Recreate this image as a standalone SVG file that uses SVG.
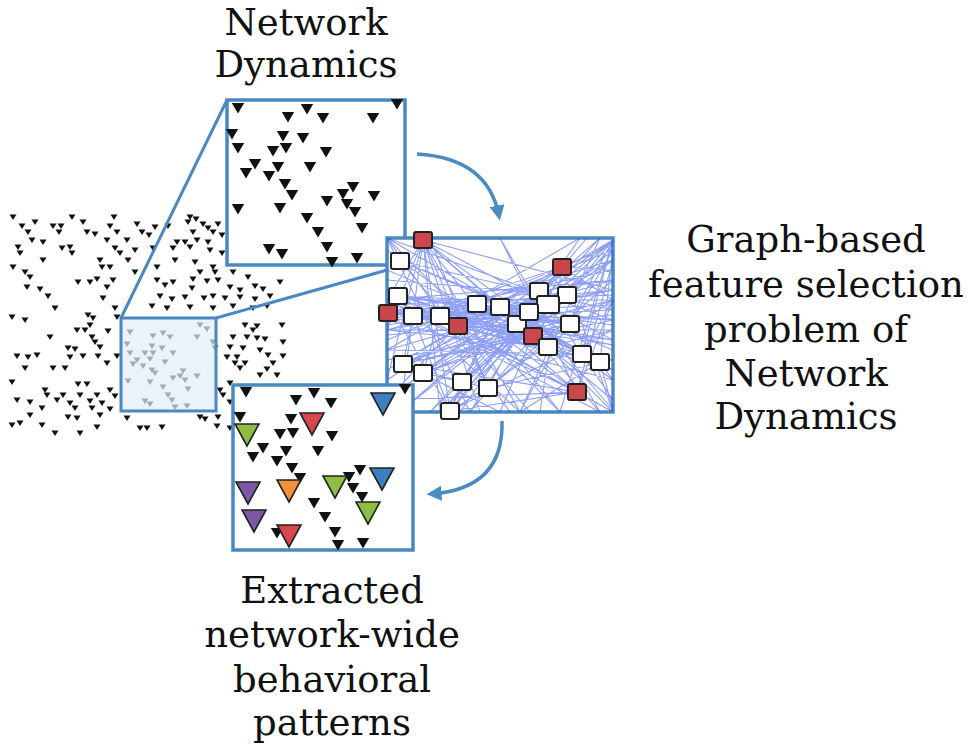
<svg xmlns="http://www.w3.org/2000/svg" xmlns:xlink="http://www.w3.org/1999/xlink" width="969" height="747" viewBox="0 0 969 747">
<style>
.panel{fill:#fff;stroke:#4a88c2;stroke-width:3.5}
.zl{stroke:#4a88c2;stroke-width:3;fill:none}
.lbl{font-family:"DejaVu Serif","Liberation Serif",serif;font-size:37px;fill:#111;text-anchor:middle}
.sc use{fill:#111}
.tri use{fill:#111}
.big use{stroke:#222;stroke-width:1.6}
.edges{stroke:#2f50f0;stroke-width:1.1;opacity:0.55;fill:none}
.nw{fill:#fff;stroke:#222;stroke-width:2}
.nr{fill:#c9474b;stroke:#222;stroke-width:2}
.arr{stroke:#4a8bc4;stroke-width:3.5;fill:none}
</style>
<defs>
<polygon id="s" points="-3.5,-2.6 3.5,-2.6 0,3"/>
<polygon id="t" points="-6.2,-5 6.2,-5 0,5.5"/>
<polygon id="b" points="-12,-10 12,-10 0,12"/>
<marker id="ah" viewBox="0 0 10 10" refX="7" refY="5" markerWidth="15" markerHeight="15" markerUnits="userSpaceOnUse" orient="auto">
<path d="M0,0 L10,5 L0,10 z" fill="#4a8bc4"/>
</marker>
<clipPath id="gc"><rect x="387" y="238" width="226" height="174"/></clipPath>
</defs>
<rect width="969" height="747" fill="#fff"/>

<g id="scatter" class="sc">
<use href="#s" x="13" y="217"/><use href="#s" x="72" y="217"/><use href="#s" x="114" y="217"/><use href="#s" x="190" y="217"/><use href="#s" x="196" y="219"/>
<use href="#s" x="22" y="226"/><use href="#s" x="35" y="222"/><use href="#s" x="53" y="226"/><use href="#s" x="61" y="226"/><use href="#s" x="83" y="222"/><use href="#s" x="110" y="226"/><use href="#s" x="137" y="224"/><use href="#s" x="155" y="227"/><use href="#s" x="168" y="226"/><use href="#s" x="188" y="222"/><use href="#s" x="203" y="224"/><use href="#s" x="208" y="228"/><use href="#s" x="218" y="224"/>
<use href="#s" x="28" y="232"/><use href="#s" x="59" y="232"/><use href="#s" x="87" y="232"/><use href="#s" x="95" y="234"/><use href="#s" x="117" y="232"/><use href="#s" x="142" y="232"/><use href="#s" x="149" y="235"/><use href="#s" x="193" y="232"/><use href="#s" x="213" y="232"/><use href="#s" x="222" y="235"/>
<use href="#s" x="32" y="240"/><use href="#s" x="43" y="242"/><use href="#s" x="107" y="240"/><use href="#s" x="127" y="240"/><use href="#s" x="177" y="242"/><use href="#s" x="185" y="242"/><use href="#s" x="197" y="240"/><use href="#s" x="208" y="242"/>
<use href="#s" x="18" y="247"/><use href="#s" x="62" y="248"/><use href="#s" x="70" y="247"/><use href="#s" x="115" y="248"/><use href="#s" x="135" y="250"/><use href="#s" x="153" y="248"/><use href="#s" x="173" y="248"/><use href="#s" x="190" y="247"/><use href="#s" x="210" y="250"/>
<use href="#s" x="20" y="253"/><use href="#s" x="72" y="253"/><use href="#s" x="120" y="253"/><use href="#s" x="222" y="253"/>
<use href="#s" x="43" y="260"/><use href="#s" x="100" y="260"/><use href="#s" x="128" y="260"/><use href="#s" x="175" y="260"/><use href="#s" x="195" y="262"/>
<use href="#s" x="13" y="267"/><use href="#s" x="102" y="267"/><use href="#s" x="110" y="267"/><use href="#s" x="157" y="267"/><use href="#s" x="213" y="267"/>
<use href="#s" x="25" y="272"/><use href="#s" x="135" y="272"/><use href="#s" x="200" y="272"/><use href="#s" x="215" y="272"/><use href="#s" x="233" y="272"/>
<use href="#s" x="30" y="277"/><use href="#s" x="78" y="282"/><use href="#s" x="90" y="282"/><use href="#s" x="97" y="279"/><use href="#s" x="113" y="280"/><use href="#s" x="157" y="280"/><use href="#s" x="173" y="282"/><use href="#s" x="193" y="279"/><use href="#s" x="207" y="281"/><use href="#s" x="218" y="280"/><use href="#s" x="248" y="277"/><use href="#s" x="280" y="282"/>
<use href="#s" x="27" y="287"/><use href="#s" x="40" y="289"/><use href="#s" x="107" y="287"/><use href="#s" x="165" y="285"/><use href="#s" x="192" y="288"/><use href="#s" x="230" y="287"/><use href="#s" x="240" y="290"/><use href="#s" x="255" y="286"/><use href="#s" x="263" y="289"/>
<use href="#s" x="48" y="296"/><use href="#s" x="103" y="298"/><use href="#s" x="160" y="296"/><use href="#s" x="172" y="299"/><use href="#s" x="185" y="297"/><use href="#s" x="204" y="298"/><use href="#s" x="213" y="296"/><use href="#s" x="225" y="298"/><use href="#s" x="240" y="297"/><use href="#s" x="255" y="299"/><use href="#s" x="270" y="296"/>
<use href="#s" x="55" y="308"/><use href="#s" x="115" y="308"/><use href="#s" x="152" y="306"/><use href="#s" x="167" y="308"/><use href="#s" x="190" y="307"/><use href="#s" x="213" y="308"/><use href="#s" x="233" y="306"/><use href="#s" x="253" y="308"/><use href="#s" x="267" y="306"/>
<use href="#s" x="12" y="317"/><use href="#s" x="25" y="320"/><use href="#s" x="88" y="315"/><use href="#s" x="93" y="318"/><use href="#s" x="117" y="317"/>
<use href="#s" x="90" y="325"/><use href="#s" x="245" y="325"/><use href="#s" x="257" y="326"/><use href="#s" x="282" y="325"/>
<use href="#s" x="77" y="330"/><use href="#s" x="85" y="330"/><use href="#s" x="108" y="331"/><use href="#s" x="253" y="330"/>
<use href="#s" x="50" y="337"/><use href="#s" x="92" y="337"/><use href="#s" x="233" y="337"/><use href="#s" x="247" y="337"/><use href="#s" x="257" y="338"/><use href="#s" x="265" y="339"/>
<use href="#s" x="95" y="342"/><use href="#s" x="283" y="342"/>
<use href="#s" x="68" y="348"/><use href="#s" x="75" y="349"/><use href="#s" x="100" y="347"/><use href="#s" x="230" y="347"/><use href="#s" x="243" y="348"/><use href="#s" x="260" y="350"/>
<use href="#s" x="17" y="356"/><use href="#s" x="28" y="357"/><use href="#s" x="37" y="355"/><use href="#s" x="70" y="357"/><use href="#s" x="83" y="356"/><use href="#s" x="98" y="356"/><use href="#s" x="117" y="356"/><use href="#s" x="227" y="357"/><use href="#s" x="237" y="357"/><use href="#s" x="268" y="355"/><use href="#s" x="283" y="356"/>
<use href="#s" x="107" y="363"/><use href="#s" x="235" y="363"/><use href="#s" x="245" y="363"/><use href="#s" x="273" y="363"/>
<use href="#s" x="25" y="368"/><use href="#s" x="53" y="368"/><use href="#s" x="65" y="368"/><use href="#s" x="240" y="368"/><use href="#s" x="267" y="369"/>
<use href="#s" x="260" y="375"/><use href="#s" x="277" y="375"/>
<use href="#s" x="12" y="382"/><use href="#s" x="78" y="384"/><use href="#s" x="87" y="384"/><use href="#s" x="230" y="383"/>
<use href="#s" x="45" y="390"/><use href="#s" x="110" y="390"/><use href="#s" x="220" y="390"/>
<use href="#s" x="47" y="395"/><use href="#s" x="63" y="395"/><use href="#s" x="80" y="395"/><use href="#s" x="97" y="395"/><use href="#s" x="115" y="396"/><use href="#s" x="223" y="395"/>
<use href="#s" x="17" y="400"/><use href="#s" x="30" y="402"/><use href="#s" x="57" y="400"/><use href="#s" x="70" y="403"/><use href="#s" x="90" y="401"/><use href="#s" x="102" y="403"/><use href="#s" x="230" y="402"/>
<use href="#s" x="42" y="408"/><use href="#s" x="75" y="408"/><use href="#s" x="92" y="408"/><use href="#s" x="110" y="409"/>
<use href="#s" x="30" y="415"/><use href="#s" x="68" y="417"/><use href="#s" x="77" y="418"/><use href="#s" x="100" y="415"/><use href="#s" x="127" y="418"/><use href="#s" x="200" y="417"/><use href="#s" x="205" y="419"/><use href="#s" x="218" y="417"/>
<use href="#s" x="12" y="425"/><use href="#s" x="20" y="423"/><use href="#s" x="42" y="425"/><use href="#s" x="97" y="427"/><use href="#s" x="140" y="428"/><use href="#s" x="147" y="428"/><use href="#s" x="162" y="427"/><use href="#s" x="217" y="426"/><use href="#s" x="230" y="428"/>
<use href="#s" x="55" y="433"/><use href="#s" x="80" y="433"/>
<use href="#s" x="130" y="332"/><use href="#s" x="153" y="336"/><use href="#s" x="163" y="333"/><use href="#s" x="170" y="337"/><use href="#s" x="200" y="325"/><use href="#s" x="207" y="329"/><use href="#s" x="197" y="337"/><use href="#s" x="127" y="344"/><use href="#s" x="152" y="346"/><use href="#s" x="162" y="348"/><use href="#s" x="130" y="353"/><use href="#s" x="145" y="353"/><use href="#s" x="153" y="353"/><use href="#s" x="173" y="353"/><use href="#s" x="213" y="342"/><use href="#s" x="215" y="348"/><use href="#s" x="137" y="360"/><use href="#s" x="150" y="359"/><use href="#s" x="165" y="362"/><use href="#s" x="133" y="364"/><use href="#s" x="143" y="366"/><use href="#s" x="152" y="370"/><use href="#s" x="155" y="373"/><use href="#s" x="183" y="371"/><use href="#s" x="180" y="376"/><use href="#s" x="173" y="378"/><use href="#s" x="185" y="380"/><use href="#s" x="197" y="376"/><use href="#s" x="128" y="381"/><use href="#s" x="150" y="382"/><use href="#s" x="163" y="387"/><use href="#s" x="188" y="389"/><use href="#s" x="168" y="395"/><use href="#s" x="172" y="400"/><use href="#s" x="145" y="401"/><use href="#s" x="150" y="404"/><use href="#s" x="175" y="407"/><use href="#s" x="187" y="406"/>
</g>

<g id="zoom-region">
<rect x="121" y="318" width="95" height="93" fill="#e4ecf6" fill-opacity="0.7" stroke="#4a88c2" stroke-width="3"/>
<line class="zl" x1="121" y1="318" x2="227" y2="100"/>
<line class="zl" x1="216" y1="318" x2="405" y2="265"/>
</g>

<g id="network-dynamics-panel">
<rect class="panel" x="227" y="100" width="178" height="165"/>
<g class="tri">
<use href="#t" x="238" y="108"/><use href="#t" x="307" y="109"/><use href="#t" x="288" y="117"/><use href="#t" x="323" y="118"/><use href="#t" x="373" y="118"/><use href="#t" x="397" y="104"/>
<use href="#t" x="232" y="134"/><use href="#t" x="283" y="136"/><use href="#t" x="303" y="138"/><use href="#t" x="238" y="148"/><use href="#t" x="273" y="151"/><use href="#t" x="286" y="148"/><use href="#t" x="326" y="152"/>
<use href="#t" x="255" y="164"/><use href="#t" x="278" y="167"/><use href="#t" x="310" y="167"/><use href="#t" x="246" y="173"/><use href="#t" x="269" y="176"/><use href="#t" x="285" y="184"/><use href="#t" x="292" y="195"/>
<use href="#t" x="353" y="187"/><use href="#t" x="343" y="194"/><use href="#t" x="374" y="196"/><use href="#t" x="327" y="201"/><use href="#t" x="347" y="204"/><use href="#t" x="355" y="212"/>
<use href="#t" x="238" y="209"/><use href="#t" x="280" y="208"/><use href="#t" x="307" y="218"/><use href="#t" x="362" y="228"/><use href="#t" x="318" y="232"/>
<use href="#t" x="327" y="247"/><use href="#t" x="269" y="249"/><use href="#t" x="282" y="254"/><use href="#t" x="332" y="262"/><use href="#t" x="357" y="258"/>
</g>
</g>

<g id="graph-panel">
<rect class="panel" x="387" y="238" width="226" height="174"/>
<g clip-path="url(#gc)">
<path class="edges" d="M388,313 L500,307 M388,313 L529,312 M388,313 L570,324 M413,316 L539,291 M413,316 L548,304 M413,316 L517,324 M440,316 L567,295 M440,316 L529,312 M440,316 L548,347 M398,296 L548,304 M398,296 L570,324 M398,296 L500,307 M477,304 L570,324 M477,304 L582,354 M458,326 L548,304 M458,326 L567,295 M458,326 L600,362 M500,307 L582,354 M500,307 L600,362 M400,261 L529,312 M423,240 L548,347 M423,240 L533,336 M423,240 L488,388 M423,240 L450,411 M403,364 L548,304 M403,364 L517,324 M403,364 L570,324 M423,373 L539,291 M423,373 L529,312 M423,373 L533,336 M462,382 L500,307 M462,382 L567,295 M462,382 L562,267 M488,388 L539,291 M488,388 L570,324 M450,411 L500,307 M450,411 L529,312 M450,411 L548,304 M577,392 L440,316 M577,392 L477,304 M577,392 L398,296 M577,392 L403,364 M577,392 L450,411 M582,354 L440,316 M600,362 L413,316 M533,336 L388,313 M533,336 L403,364 M562,267 L413,316 M562,267 L458,326 M562,267 L423,373 M562,267 L450,411 M423,240 L500,307
M423,240 L613,290 M423,240 L613,340 M423,240 L560,412 M423,240 L520,412 M423,240 L387,380 M423,240 L480,412 M423,240 L387,330 M423,240 L400,412 M423,240 L440,412 M423,240 L387,300 M423,240 L613,380
M562,267 L387,340 M562,267 L387,400 M562,267 L430,412 M562,267 L500,412 M562,267 L613,412 M562,267 L613,245 M562,267 L613,300 M562,267 L587,238 M562,267 L613,270 M562,267 L470,412 M562,267 L387,370 M562,267 L540,412
M387,238 L613,320 M387,238 L560,412 M387,238 L470,412 M387,238 L510,412 M387,238 L613,370
M613,240 L470,412 M613,240 L430,412 M613,240 L387,370 M613,240 L520,412 M613,240 L560,412 M613,240 L400,412
M613,260 L387,330 M600,238 L440,412 M600,238 L400,412 M580,238 L387,350 M580,238 L460,412
M387,300 L613,300 M387,300 L613,280 M387,300 L613,340 M387,320 L613,310 M387,320 L613,270 M387,320 L613,380 M387,330 L613,330 M387,310 L613,320 M387,305 L613,295 M387,315 L613,305 M387,325 L613,290 M387,295 L613,325 M387,335 L613,315 M387,310 L613,345
M450,412 L613,300 M520,412 L387,290 M520,412 L600,238 M600,412 L387,300 M600,412 L500,238
M582,354 L387,270 M582,354 L387,350 M582,354 L613,240 M600,362 L387,300 M600,362 L613,250 M600,362 L520,412
M577,392 L387,300 M577,392 L387,250 M577,392 L613,412 M577,392 L500,238 M577,392 L387,400 M577,392 L613,260 M577,392 L613,300
M403,364 L613,260 M403,364 L613,320 M403,364 L500,412 M423,373 L613,300 M488,388 L613,280 M488,388 L613,360 M488,388 L430,238
M450,411 L613,330 M450,411 L387,300 M462,382 L613,260 M398,296 L613,320 M398,296 L613,360 M388,313 L613,290 M388,313 L613,340
M400,261 L613,310 M400,261 L613,350 M400,261 L530,412 M477,304 L613,250 M477,304 L387,400 M500,307 L387,380 M500,307 L613,400
M458,326 L613,280 M458,326 L613,370 M567,295 L387,330 M567,295 L387,280 M567,295 L440,412 M570,324 L387,300 M570,324 L387,360
M548,347 L387,290 M548,347 L387,330 M548,304 L387,310 M548,304 L387,350 M539,291 L613,240 M539,291 L613,400 M548,304 L613,250 M529,312 L613,410
M533,336 L613,245 M533,336 L600,412 M517,324 L613,300 M517,324 L387,395 M548,347 L613,412 M570,324 L613,380 M582,354 L613,300
M413,316 L450,411 M440,316 L423,373 M403,364 L462,382 M423,373 L488,388 M462,382 L450,411 M413,316 L403,364
M539,291 L613,280 M567,295 L613,240 M548,304 L613,290 M529,312 L613,260 M570,324 L613,250 M548,347 L613,330 M600,362 L613,410 M517,324 L613,345"/>
</g>
<rect class="nr" x="414" y="232" width="18" height="16" rx="2"/>
<rect class="nw" x="391" y="253" width="18" height="16" rx="2"/>
<rect class="nr" x="553" y="259" width="18" height="16" rx="2"/>
<rect class="nw" x="389" y="288" width="18" height="16" rx="2"/>
<rect class="nr" x="379" y="305" width="18" height="16" rx="2"/>
<rect class="nw" x="404" y="308" width="18" height="16" rx="2"/>
<rect class="nw" x="431" y="308" width="18" height="16" rx="2"/>
<rect class="nw" x="468" y="296" width="18" height="16" rx="2"/>
<rect class="nw" x="491" y="299" width="18" height="16" rx="2"/>
<rect class="nr" x="449" y="318" width="18" height="16" rx="2"/>
<rect class="nw" x="530" y="283" width="18" height="16" rx="2"/>
<rect class="nw" x="558" y="287" width="18" height="16" rx="2"/>
<rect class="nw" x="508" y="316" width="18" height="16" rx="2"/>
<rect class="nw" x="561" y="316" width="18" height="16" rx="2"/>
<rect class="nw" x="537" y="296" width="22" height="17" rx="2"/>
<rect class="nw" x="520" y="304" width="18" height="16" rx="2"/>
<rect class="nr" x="524" y="328" width="18" height="16" rx="2"/>
<rect class="nw" x="539" y="339" width="18" height="16" rx="2"/>
<rect class="nw" x="573" y="346" width="18" height="16" rx="2"/>
<rect class="nw" x="591" y="354" width="18" height="16" rx="2"/>
<rect class="nw" x="394" y="356" width="18" height="16" rx="2"/>
<rect class="nw" x="414" y="365" width="18" height="16" rx="2"/>
<rect class="nw" x="453" y="374" width="18" height="16" rx="2"/>
<rect class="nw" x="479" y="380" width="18" height="16" rx="2"/>
<rect class="nr" x="568" y="384" width="18" height="16" rx="2"/>
<rect class="nw" x="441" y="403" width="18" height="16" rx="2"/>
</g>

<g id="patterns-panel">
<rect class="panel" x="233" y="385" width="180" height="165"/>
<g class="tri">
<use href="#t" x="246" y="392"/><use href="#t" x="314" y="393"/><use href="#t" x="296" y="400"/><use href="#t" x="331" y="403"/><use href="#t" x="405" y="389"/>
<use href="#t" x="240" y="417"/><use href="#t" x="291" y="419"/><use href="#t" x="280" y="434"/><use href="#t" x="293" y="433"/><use href="#t" x="332" y="436"/>
<use href="#t" x="263" y="448"/><use href="#t" x="286" y="451"/><use href="#t" x="318" y="451"/><use href="#t" x="253" y="457"/><use href="#t" x="277" y="461"/><use href="#t" x="292" y="468"/><use href="#t" x="300" y="478"/>
<use href="#t" x="360" y="470"/><use href="#t" x="349" y="477"/><use href="#t" x="353" y="488"/><use href="#t" x="362" y="497"/><use href="#t" x="314" y="503"/><use href="#t" x="325" y="517"/><use href="#t" x="335" y="532"/><use href="#t" x="277" y="533"/><use href="#t" x="363" y="543"/><use href="#t" x="338" y="545"/>
</g>
<g class="big">
<use href="#b" x="383" y="403" fill="#3d7fc1"/>
<use href="#b" x="312" y="423" fill="#d8474d"/>
<use href="#b" x="247" y="434" fill="#8dbd43"/>
<use href="#b" x="382" y="478" fill="#3d7fc1"/>
<use href="#b" x="289" y="490" fill="#f5903a"/>
<use href="#b" x="335" y="486" fill="#8dbd43"/>
<use href="#b" x="248" y="492" fill="#7a58a6"/>
<use href="#b" x="368" y="512" fill="#8dbd43"/>
<use href="#b" x="254" y="520" fill="#7a58a6"/>
<use href="#b" x="289" y="535" fill="#d8474d"/>
</g>
</g>

<g id="connectors">
<path class="arr" d="M417,154 Q488,158 499,216" marker-end="url(#ah)"/>
<path class="arr" d="M502,421 Q504,489 431,494" marker-end="url(#ah)"/>
</g>

<g id="labels">
<text class="lbl" x="306" y="35">Network</text>
<text class="lbl" x="306" y="77">Dynamics</text>
<text class="lbl" x="806" y="252">Graph-based</text>
<text class="lbl" x="806" y="297">feature selection</text>
<text class="lbl" x="806" y="342">problem of</text>
<text class="lbl" x="806" y="386">Network</text>
<text class="lbl" x="806" y="429">Dynamics</text>
<text class="lbl" x="332" y="603">Extracted</text>
<text class="lbl" x="332" y="647">network-wide</text>
<text class="lbl" x="332" y="692">behavioral</text>
<text class="lbl" x="332" y="735">patterns</text>
</g>
</svg>
